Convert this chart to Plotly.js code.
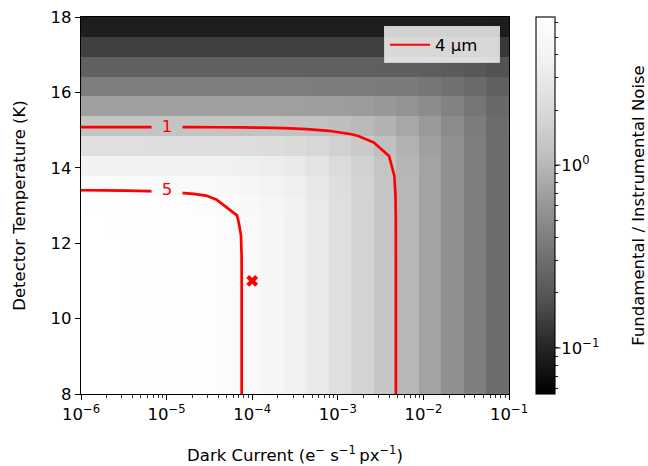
<!DOCTYPE html>
<html>
<head>
<meta charset="utf-8">
<script src="https://cdn.plot.ly/plotly-3.0.1.min.js"></script>
<style>html,body{margin:0;padding:0;background:#fff;}#chart{width:648px;height:466px;}</style>
</head>
<body>
<div id="chart"></div>
<script>
// Grid of dark currents (e- s^-1 px^-1) and detector temperatures (K)
const darkCurrent = [1.000e-6, 1.833e-6, 3.360e-6, 6.158e-6, 1.129e-5, 2.069e-5, 3.793e-5, 6.952e-5, 1.274e-4, 2.336e-4,
                     4.281e-4, 7.848e-4, 1.438e-3, 2.637e-3, 4.833e-3, 8.859e-3, 1.624e-2, 2.976e-2, 5.456e-2, 1.000e-1];
const temperature = [8.000, 8.526, 9.053, 9.579, 10.105, 10.632, 11.158, 11.684, 12.211, 12.737,
                     13.263, 13.789, 14.316, 14.842, 15.368, 15.895, 16.421, 16.947, 17.474, 18.000];
// Fundamental / instrumental noise ratio, rows = temperature, columns = dark current
const noiseRatio = [
 [6.373,6.351,6.312,6.241,6.116,5.907,5.573,5.085,4.447,3.718,2.985,2.322,1.769,1.330,0.992,0.737,0.546,0.404,0.299,0.221],
 [6.373,6.351,6.312,6.241,6.116,5.907,5.573,5.085,4.447,3.718,2.985,2.322,1.769,1.330,0.992,0.737,0.546,0.404,0.299,0.221],
 [6.373,6.351,6.312,6.241,6.116,5.907,5.573,5.085,4.447,3.718,2.985,2.322,1.769,1.330,0.992,0.737,0.546,0.404,0.299,0.221],
 [6.373,6.351,6.312,6.241,6.116,5.907,5.573,5.085,4.447,3.718,2.985,2.322,1.769,1.330,0.992,0.737,0.546,0.404,0.299,0.221],
 [6.373,6.351,6.312,6.241,6.116,5.907,5.573,5.085,4.447,3.718,2.985,2.322,1.769,1.330,0.992,0.737,0.546,0.404,0.299,0.221],
 [6.373,6.351,6.312,6.241,6.116,5.907,5.573,5.085,4.447,3.718,2.985,2.322,1.769,1.330,0.992,0.737,0.546,0.404,0.299,0.221],
 [6.372,6.350,6.311,6.240,6.115,5.906,5.573,5.085,4.447,3.718,2.985,2.322,1.769,1.330,0.992,0.737,0.546,0.404,0.299,0.221],
 [6.367,6.345,6.306,6.235,6.111,5.902,5.569,5.082,4.445,3.716,2.984,2.322,1.769,1.330,0.992,0.737,0.546,0.404,0.299,0.221],
 [6.332,6.310,6.271,6.202,6.080,5.874,5.545,5.064,4.433,3.710,2.980,2.320,1.768,1.329,0.992,0.737,0.546,0.404,0.299,0.221],
 [6.144,6.124,6.088,6.024,5.913,5.723,5.418,4.966,4.367,3.671,2.960,2.310,1.764,1.328,0.991,0.736,0.546,0.404,0.299,0.221],
 [5.416,5.402,5.378,5.334,5.256,5.121,4.899,4.557,4.081,3.496,2.866,2.265,1.743,1.319,0.987,0.735,0.545,0.404,0.298,0.221],
 [3.868,3.863,3.854,3.837,3.808,3.756,3.665,3.515,3.283,2.954,2.544,2.096,1.662,1.283,0.972,0.728,0.542,0.403,0.298,0.220],
 [2.271,2.271,2.269,2.265,2.259,2.248,2.228,2.193,2.133,2.035,1.885,1.679,1.430,1.167,0.919,0.705,0.533,0.398,0.296,0.220],
 [1.252,1.252,1.251,1.251,1.250,1.248,1.244,1.238,1.227,1.207,1.174,1.119,1.035,0.921,0.783,0.638,0.502,0.385,0.291,0.217],
 [0.697,0.697,0.697,0.696,0.696,0.696,0.695,0.694,0.692,0.689,0.682,0.671,0.652,0.620,0.572,0.508,0.431,0.350,0.275,0.210],
 [0.3994,0.3994,0.3994,0.3993,0.3993,0.3992,0.3991,0.3989,0.3985,0.3979,0.3966,0.3943,0.3903,0.3832,0.3711,0.3516,0.3227,0.2843,0.2393,0.1932],
 [0.2369,0.2369,0.2369,0.2369,0.2369,0.2369,0.2369,0.2368,0.2367,0.2366,0.2363,0.2358,0.2349,0.2334,0.2305,0.2256,0.2174,0.2044,0.1856,0.1615],
 [0.1449,0.1449,0.1449,0.1449,0.1449,0.1449,0.1449,0.1449,0.1448,0.1448,0.1447,0.1446,0.1444,0.1440,0.1434,0.1422,0.1400,0.1364,0.1304,0.1211],
 [0.0913,0.0913,0.0913,0.0913,0.0913,0.0913,0.0913,0.0913,0.0913,0.0913,0.0912,0.0912,0.0912,0.0911,0.0909,0.0906,0.0900,0.0890,0.0873,0.0844],
 [0.0591,0.0591,0.0591,0.0591,0.0591,0.0591,0.0591,0.0591,0.0591,0.0591,0.0591,0.0591,0.0590,0.0590,0.0590,0.0589,0.0587,0.0585,0.0580,0.0571]
];
const contourLevels = [1, 5];
const contourLabelText = ['1', '5'];
const contourLabelDark = [1e-5, 1e-5];
const contourLabelTemp = [15.11, 13.43];
const markerDark = [1e-4];
const markerTemp = [11];
const legendName = '4 µm';
const colorMin = 0.056, colorMax = 6.45;
const xTickVals = [1e-6, 1e-5, 1e-4, 1e-3, 1e-2, 1e-1];
const xTickExp = ['−6', '−5', '−4', '−3', '−2', '−1'];
const cbMajorVals = [0.1, 1];
const cbMajorExp = ['−1', '0'];
const cbMinorVals = [0.06,0.07,0.08,0.09,0.2,0.3,0.4,0.5,0.6,0.7,0.8,0.9,2,3,4,5,6];

const FONT = 'DejaVu Sans, Verdana, sans-serif';
const FS = 16.5;
const SUP = s => '<sup>' + s + '</sup>';
const pow10 = e => '10' + SUP(e);
const greysR = [[0,'#000000'],[0.125,'#252525'],[0.25,'#525252'],[0.375,'#737373'],[0.5,'#969696'],
                [0.625,'#bdbdbd'],[0.75,'#d9d9d9'],[0.875,'#f0f0f0'],[1,'#ffffff']];

// pcolormesh-style: 19x19 cells coloured by their lower-left grid value
const cellZ = noiseRatio.slice(0, 19).map(r => r.slice(0, 19).map(v => Math.log10(v)));
const lmin = Math.log10(colorMin), lmax = Math.log10(colorMax);

function greyAt(frac) {
  frac = Math.max(0, Math.min(1, frac));
  for (let k = 1; k < greysR.length; k++) {
    if (frac <= greysR[k][0]) {
      const a = greysR[k - 1], b = greysR[k];
      const ga = parseInt(a[1].slice(1, 3), 16), gb = parseInt(b[1].slice(1, 3), 16);
      const g = Math.round(ga + (gb - ga) * (frac - a[0]) / (b[0] - a[0]));
      return 'rgb(' + g + ',' + g + ',' + g + ')';
    }
  }
  return '#ffffff';
}
function cellColour(xv, yv) {
  let i = 0, j = 0;
  while (i < 18 && darkCurrent[i + 1] <= xv) i++;
  while (j < 18 && temperature[j + 1] <= yv) j++;
  return greyAt((cellZ[j][i] - lmin) / (lmax - lmin));
}

const xMinor = [];
for (let d = -6; d < -1; d++) for (let m = 2; m <= 9; m++) xMinor.push(m * Math.pow(10, d));

const cbVals = cbMinorVals.concat(cbMajorVals).map(v => Math.log10(v));
const cbText = cbMinorVals.map(() => '').concat(cbMajorExp.map(pow10));

const traces = [
  {
    type: 'heatmap', x: darkCurrent, y: temperature, z: cellZ,
    colorscale: greysR, zmin: lmin, zmax: lmax, zsmooth: false, hoverinfo: 'skip',
    colorbar: {
      x: 1.063, xanchor: 'left', xpad: 0, ypad: 0, y: 0.5, yanchor: 'middle',
      len: 1, lenmode: 'fraction', thickness: 19, thicknessmode: 'pixels',
      outlinewidth: 1.1, outlinecolor: '#000',
      tickmode: 'array', tickvals: cbVals, ticktext: cbText,
      ticks: 'outside', ticklen: 3, tickwidth: 0.9, tickcolor: '#000',
      tickfont: {family: FONT, size: FS, color: '#000'}
    },
    showlegend: false
  },
  {
    type: 'contour', x: darkCurrent, y: temperature, z: noiseRatio,
    autocontour: false,
    contours: {coloring: 'lines', start: contourLevels[0], end: contourLevels[1], size: contourLevels[1] - contourLevels[0],
               showlabels: false},
    colorscale: [[0,'red'],[1,'red']], showscale: false,
    line: {color: 'red', width: 2.7, smoothing: 0},
    hoverinfo: 'skip', showlegend: false
  },
  {
    type: 'scatter', mode: 'lines', x: [null], y: [null], name: legendName + '\u2003',
    line: {color: 'red', width: 2}, showlegend: true
  },
  {
    type: 'scatter', mode: 'markers', x: markerDark, y: markerTemp,
    marker: {symbol: 'x', size: 10.5, color: 'red', line: {width: 0}},
    showlegend: false, hoverinfo: 'skip'
  }
];

const shapes = cbMajorVals.map(v => ({
  type: 'line', xref: 'paper', yref: 'paper',
  x0: 1.063 + 19/428, x1: 1.063 + 24.5/428,
  y0: (Math.log10(v) - lmin) / (lmax - lmin), y1: (Math.log10(v) - lmin) / (lmax - lmin),
  line: {color: '#000', width: 1}
}));

const annotations = [{
  text: 'Fundamental / Instrumental Noise', xref: 'paper', yref: 'paper',
  x: 1.302, y: 0.5, xanchor: 'center', yanchor: 'middle', textangle: -90, showarrow: false,
  font: {family: FONT, size: FS, color: '#000'}
}];
contourLabelText.forEach((t, k) => {
  annotations.push({
    text: t, x: Math.log10(contourLabelDark[k]), y: contourLabelTemp[k], xref: 'x', yref: 'y',
    showarrow: false, xanchor: 'center', yanchor: 'middle',
    bgcolor: cellColour(contourLabelDark[k], contourLabelTemp[k]),
    width: 30, height: 12, borderpad: 0,
    font: {family: FONT, size: FS, color: 'red'}
  });
});

const layout = {
  width: 648, height: 466,
  margin: {l: 81, r: 139, t: 17, b: 72},
  paper_bgcolor: '#fff', plot_bgcolor: '#fff',
  font: {family: FONT, size: FS, color: '#000'},
  xaxis: {
    type: 'log', range: [-6, -1], tickmode: 'array', tickvals: xTickVals, ticktext: xTickExp.map(pow10),
    ticks: 'outside', ticklen: 5, tickwidth: 1, tickcolor: '#000',
    showline: true, mirror: true, linecolor: '#000', linewidth: 1.1,
    showgrid: false, zeroline: false,
    minor: {tickmode: 'array', tickvals: xMinor, ticks: 'outside', ticklen: 3, tickwidth: 0.8, tickcolor: '#000', showgrid: false},
    tickfont: {family: FONT, size: FS, color: '#000'},
    title: {text: 'Dark Current (e' + SUP('−') + ' s' + SUP('−1') + '\u2009px' + SUP('−1') + ')',
            font: {family: FONT, size: FS, color: '#000'}, standoff: 26}
  },
  yaxis: {
    range: [8, 18], tickmode: 'array', tickvals: [8, 10, 12, 14, 16, 18],
    ticks: 'outside', ticklen: 5, tickwidth: 1, tickcolor: '#000',
    showline: true, mirror: true, linecolor: '#000', linewidth: 1.1,
    showgrid: false, zeroline: false,
    tickfont: {family: FONT, size: FS, color: '#000'},
    title: {text: 'Detector Temperature (K)', font: {family: FONT, size: FS, color: '#000'}, standoff: 20}
  },
  legend: {
    x: 0.979, xanchor: 'right', y: 0.975, yanchor: 'top', itemwidth: 40,
    bgcolor: 'rgba(255,255,255,0.8)', bordercolor: '#cccccc', borderwidth: 1,
    font: {family: FONT, size: FS, color: '#000'}
  },
  shapes: shapes,
  annotations: annotations
};

Plotly.newPlot('chart', traces, layout, {displayModeBar: false, staticPlot: true});
</script>
</body>
</html>
